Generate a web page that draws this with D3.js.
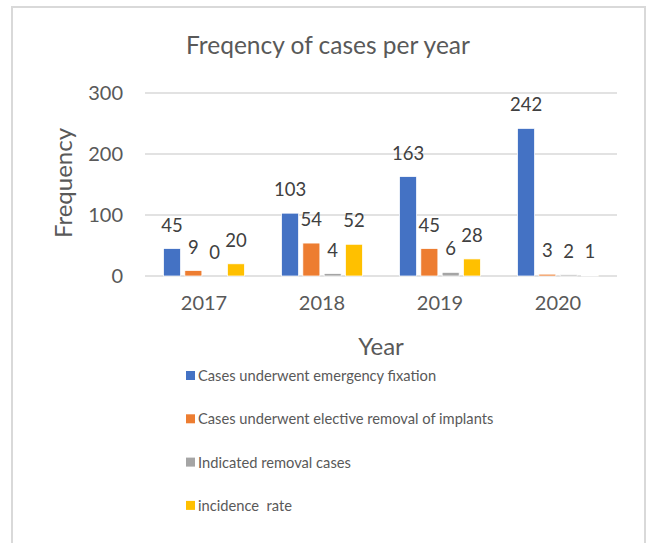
<!DOCTYPE html>
<html>
<head>
<meta charset="utf-8">
<script src="https://cdn.jsdelivr.net/npm/d3@7"></script>
<style>
  body { margin: 0; background: #fff; }
  svg text { font-family: Lato, "Open Sans", sans-serif; white-space: pre; }
</style>
</head>
<body>
<div id="chart"></div>
<script>
// data
const years = ['2017', '2018', '2019', '2020'];
const seriesNames = [
    'Cases underwent emergency fixation',
    'Cases underwent elective removal of implants',
    'Indicated removal cases',
    'incidence  rate'
];
const emergencyFixation = [45, 103, 163, 242];
const electiveRemoval = [9, 54, 45, 3];
const indicatedRemoval = [0, 4, 6, 2];
const incidenceRate = [20, 52, 28, 1];
const yTicks = [0, 100, 200, 300];
const colors = ['#4472C4', '#ED7D31', '#A5A5A5', '#FFC000'];

const seriesValues = [emergencyFixation, electiveRemoval, indicatedRemoval, incidenceRate];

const width = 646, height = 543;
const margin = {top: 93, right: 29, bottom: 267, left: 145};
const innerW = width - margin.left - margin.right;
const innerH = height - margin.top - margin.bottom;

const svg = d3.select('#chart').append('svg')
    .attr('width', width)
    .attr('height', height);

// outer frame of the chart
svg.append('rect')
    .attr('x', 12).attr('y', 7)
    .attr('width', 633).attr('height', 545)
    .attr('fill', 'none')
    .attr('stroke', '#d9d9d9')
    .attr('stroke-width', 2);

// title
svg.append('text')
    .attr('x', 328).attr('y', 54)
    .attr('text-anchor', 'middle')
    .attr('font-size', 24.5)
    .attr('fill', '#595959')
    .text('Freqency of cases per year');

const g = svg.append('g')
    .attr('transform', 'translate(' + margin.left + ',' + margin.top + ')');

const x0 = d3.scaleBand().domain(years).range([0, innerW]);
const x1 = d3.scaleBand().domain(d3.range(seriesNames.length))
    .range([0, x0.bandwidth()])
    .paddingInner(0.2)
    .paddingOuter(0.87);
const y = d3.scaleLinear().domain([0, 300]).range([innerH, 0]);

// gridlines
g.append('g').attr('class', 'grid')
    .selectAll('line')
    .data(yTicks)
    .join('line')
    .attr('x1', 0).attr('x2', innerW)
    .attr('y1', d => y(d)).attr('y2', d => y(d))
    .attr('stroke', '#d9d9d9')
    .attr('stroke-width', 1.5);

// y axis labels
const yAxisG = g.append('g')
    .attr('transform', 'translate(-22,0)')
    .call(d3.axisLeft(y).tickValues(yTicks).tickSize(0).tickPadding(0));
yAxisG.select('.domain').remove();
yAxisG.selectAll('text')
    .attr('font-family', 'Lato, "Open Sans", sans-serif')
    .attr('font-size', 20)
    .attr('fill', '#595959');

// x axis labels
const xAxisG = g.append('g')
    .attr('transform', 'translate(0,' + innerH + ')')
    .call(d3.axisBottom(x0).tickSize(0).tickPadding(20));
xAxisG.select('.domain').remove();
xAxisG.selectAll('text')
    .attr('font-family', 'Lato, "Open Sans", sans-serif')
    .attr('font-size', 20)
    .attr('fill', '#595959');

// axis titles
svg.append('text')
    .attr('x', margin.left + innerW / 2).attr('y', 355)
    .attr('text-anchor', 'middle')
    .attr('font-size', 24)
    .attr('fill', '#595959')
    .text('Year');

svg.append('text')
    .attr('transform', 'translate(72,183) rotate(-90)')
    .attr('text-anchor', 'middle')
    .attr('font-size', 24)
    .attr('fill', '#595959')
    .text('Frequency');

// bars
const groups = g.selectAll('.yearG')
    .data(years)
    .join('g')
    .attr('class', 'yearG')
    .attr('transform', d => 'translate(' + x0(d) + ',0)');

const cells = groups.selectAll('.cell')
    .data((yr, i) => seriesValues.map((vals, s) => ({s: s, value: vals[i]})))
    .join('g')
    .attr('class', 'cell');

cells.append('rect')
    .attr('x', d => x1(d.s))
    .attr('y', d => y(d.value))
    .attr('width', x1.bandwidth())
    .attr('height', d => innerH - y(d.value))
    .attr('fill', d => colors[d.s])
    .attr('stroke', '#fff')
    .attr('stroke-width', d => d.value > 0 ? 0.75 : 0);

cells.append('text')
    .attr('x', d => x1(d.s) + x1.bandwidth() / 2)
    .attr('y', d => y(d.value) - 17)
    .attr('text-anchor', 'middle')
    .attr('font-size', 18.5)
    .attr('fill', '#404040')
    .text(d => d.value);

// legend
const legend = svg.append('g').attr('class', 'legend')
    .selectAll('g')
    .data(seriesNames)
    .join('g')
    .attr('transform', (d, i) => 'translate(186,' + (376 + i * 43.3) + ')');

legend.append('rect')
    .attr('x', 0).attr('y', -5)
    .attr('width', 9).attr('height', 9)
    .attr('fill', (d, i) => colors[i]);

legend.append('text')
    .attr('x', 12).attr('y', 5)
    .attr('font-size', 14.7)
    .attr('fill', '#595959')
    .text(d => d);
</script>
</body>
</html>
